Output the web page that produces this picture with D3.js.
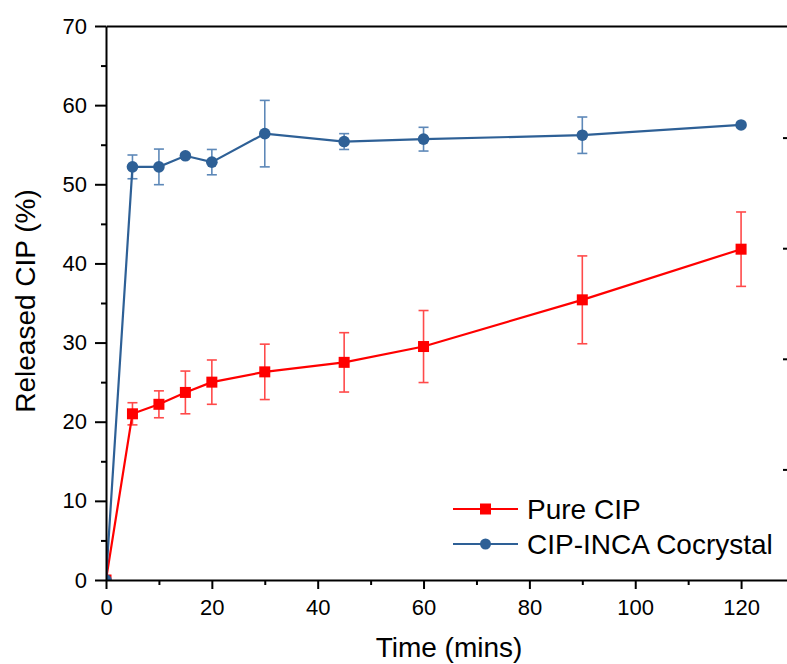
<!DOCTYPE html>
<html>
<head>
<meta charset="utf-8">
<script src="https://cdn.jsdelivr.net/npm/d3@7"></script>
<style>
  html, body { margin: 0; padding: 0; background: #fff; }
  svg { display: block; font-family: "Liberation Sans", Arial, sans-serif; }
</style>
</head>
<body>
<svg id="chart" width="787" height="664"></svg>
<script>
// ---- data ----
const times = [0, 5, 10, 15, 20, 30, 45, 60, 90, 120];
const pureCIP = [0, 21.0, 22.2, 23.7, 25.0, 26.3, 27.5, 29.5, 35.4, 41.8];
const pureCIPErr = [0, 1.4, 1.7, 2.7, 2.8, 3.5, 3.75, 4.55, 5.55, 4.7];
const cocrystal = [0, 52.2, 52.2, 53.6, 52.8, 56.4, 55.4, 55.7, 56.2, 57.5];
const cocrystalErr = [0, 1.5, 2.25, 0.3, 1.6, 4.2, 1.0, 1.5, 2.3, 0.3];
const seriesNames = ["Pure CIP", "CIP-INCA Cocrystal"];
const xTicks = [0, 20, 40, 60, 80, 100, 120];
const xMinorTicks = [10, 30, 50, 70, 90, 110];
const yTicks = [0, 10, 20, 30, 40, 50, 60, 70];
const yMinorTicks = [5, 15, 25, 35, 45, 55, 65];
const rightTicks = [1, 2, 3, 4];

const RED = "#ff0000", RED_ERR = "#ff4a4a";
const BLUE = "#2e6096", BLUE_ERR = "#5d88b8";

const svg = d3.select("#chart");
const x = d3.scaleLinear().domain([0, 130]).range([106, 794]);
const y = d3.scaleLinear().domain([0, 70]).range([580, 26]);
const yR = d3.scaleLinear().domain([0, 5]).range([580, 27]);

const series = [
  { name: seriesNames[0], vals: pureCIP, err: pureCIPErr, color: RED, errColor: RED_ERR, shape: "square" },
  { name: seriesNames[1], vals: cocrystal, err: cocrystalErr, color: BLUE, errColor: BLUE_ERR, shape: "circle" }
];

// clip for plot area
svg.append("defs").append("clipPath").attr("id", "plotclip")
  .append("rect").attr("x", x(0)).attr("y", y(70)).attr("width", x(130) - x(0)).attr("height", y(0) - y(70));

const plot = svg.append("g").attr("clip-path", "url(#plotclip)");

series.forEach(s => {
  const pts = times.map((t, i) => ({ t, v: s.vals[i], e: s.err[i] }));
  // error bars
  const eb = plot.append("g").attr("stroke", s.errColor).attr("stroke-width", 1.6).attr("fill", "none");
  pts.filter(p => p.e > 0).forEach(p => {
    const cx = x(p.t);
    eb.append("line").attr("x1", cx).attr("x2", cx).attr("y1", y(p.v - p.e)).attr("y2", y(p.v + p.e));
    eb.append("line").attr("x1", cx - 5).attr("x2", cx + 5).attr("y1", y(p.v + p.e)).attr("y2", y(p.v + p.e));
    eb.append("line").attr("x1", cx - 5).attr("x2", cx + 5).attr("y1", y(p.v - p.e)).attr("y2", y(p.v - p.e));
  });
  // line
  plot.append("path").datum(pts)
    .attr("d", d3.line().x(d => x(d.t)).y(d => y(d.v)))
    .attr("fill", "none").attr("stroke", s.color).attr("stroke-width", 2.2);
  // markers
  if (s.shape === "square") {
    plot.selectAll(null).data(pts).enter().append("rect")
      .attr("x", d => x(d.t) - 5.5).attr("y", d => y(d.v) - 5.5)
      .attr("width", 11).attr("height", 11).attr("fill", s.color);
  } else {
    plot.selectAll(null).data(pts).enter().append("circle")
      .attr("cx", d => x(d.t)).attr("cy", d => y(d.v)).attr("r", 5.8).attr("fill", s.color);
  }
});

// axes
const axisStyle = g => {
  g.selectAll("path.domain").attr("stroke", "#000").attr("stroke-width", 2);
  g.selectAll(".tick line").attr("stroke", "#000").attr("stroke-width", 2);
  g.selectAll("text").attr("fill", "#000").style("font-size", "22px").style("font-family", "'Liberation Sans', Arial, sans-serif");
};

// bottom axis
const xAxis = svg.append("g").attr("transform", `translate(0,${y(0)})`)
  .call(d3.axisBottom(x).tickValues(xTicks).tickSize(9).tickPadding(10).tickSizeOuter(0).tickFormat(d3.format("d")));
axisStyle(xAxis);
xAxis.selectAll("text").attr("dy", "0.71em");
svg.append("g").attr("transform", `translate(0,${y(0)})`)
  .call(d3.axisBottom(x).tickValues(xMinorTicks).tickSize(5).tickFormat("").tickSizeOuter(0))
  .call(g => { g.select("path.domain").remove(); g.selectAll(".tick line").attr("stroke", "#000").attr("stroke-width", 2); });

// left axis
const yAxis = svg.append("g").attr("transform", `translate(${x(0)},0)`)
  .call(d3.axisLeft(y).tickValues(yTicks).tickSize(11).tickPadding(8).tickSizeOuter(0).tickFormat(d3.format("d")));
axisStyle(yAxis);
svg.append("g").attr("transform", `translate(${x(0)},0)`)
  .call(d3.axisLeft(y).tickValues(yMinorTicks).tickSize(5).tickFormat("").tickSizeOuter(0))
  .call(g => { g.select("path.domain").remove(); g.selectAll(".tick line").attr("stroke", "#000").attr("stroke-width", 2); });

// top border
svg.append("g").attr("transform", `translate(0,${y(70)})`)
  .call(d3.axisTop(x).tickValues([]).tickSizeOuter(0))
  .call(g => g.select("path.domain").attr("stroke", "#000").attr("stroke-width", 2));

// right axis (inward ticks)
svg.append("g").attr("transform", `translate(${x(130)},0)`)
  .call(d3.axisRight(yR).tickValues(rightTicks).tickSize(-11).tickFormat("").tickSizeOuter(0))
  .call(g => { g.select("path.domain").attr("stroke", "#000").attr("stroke-width", 2); g.selectAll(".tick line").attr("stroke", "#000").attr("stroke-width", 2); });

// axis titles
svg.append("text").attr("x", 449).attr("y", 657).attr("text-anchor", "middle")
  .style("font-size", "28px").attr("fill", "#000").text("Time (mins)");
svg.append("text").attr("transform", "translate(35,301) rotate(-90)").attr("text-anchor", "middle")
  .style("font-size", "28px").attr("fill", "#000").text("Released CIP (%)");

// legend
const leg = svg.append("g");
series.forEach((s, i) => {
  const ly = 509 + i * 35;
  leg.append("line").attr("x1", 453).attr("x2", 518).attr("y1", ly).attr("y2", ly)
    .attr("stroke", s.color).attr("stroke-width", 2.2);
  if (s.shape === "square") {
    leg.append("rect").attr("x", 485.5 - 5.5).attr("y", ly - 5.5).attr("width", 11).attr("height", 11).attr("fill", s.color);
  } else {
    leg.append("circle").attr("cx", 485.5).attr("cy", ly).attr("r", 5.5).attr("fill", s.color);
  }
  leg.append("text").attr("x", 527).attr("y", ly).attr("dy", "0.35em")
    .style("font-size", "28px").attr("fill", "#000").text(s.name);
});
</script>
</body>
</html>
